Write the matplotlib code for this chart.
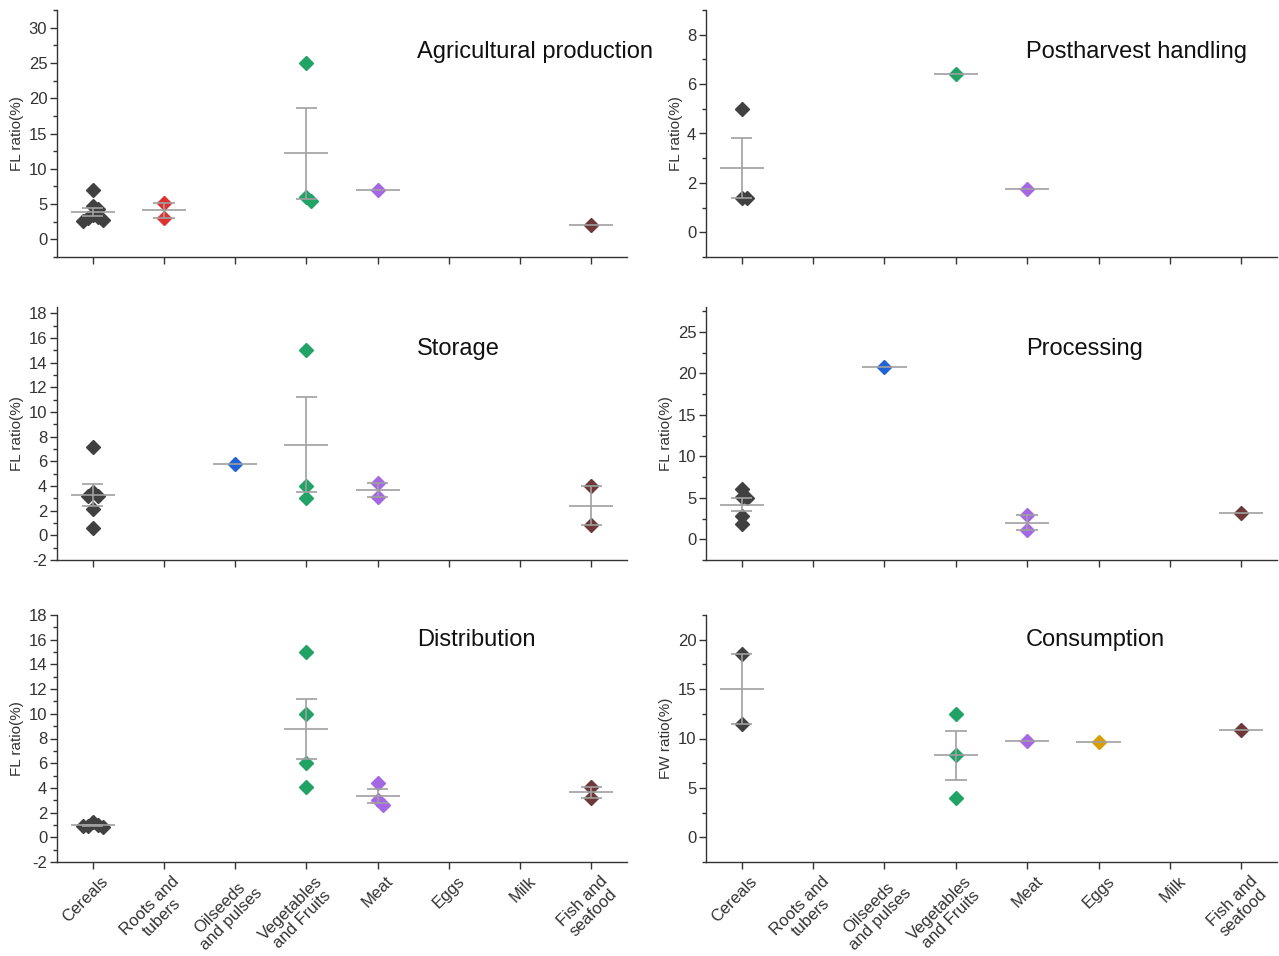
import numpy as np
import matplotlib
matplotlib.use("Agg")
import matplotlib.pyplot as plt
from matplotlib.ticker import MultipleLocator, AutoMinorLocator
import matplotlib.transforms as mtransforms

plt.rcParams['font.family'] = ['Liberation Sans', 'DejaVu Sans']
plt.rcParams['axes.unicode_minus'] = False

categories = ["Cereals", "Roots and\ntubers", "Oilseeds\nand pulses", "Vegetables\nand Fruits",
              "Meat", "Eggs", "Milk", "Fish and\nseafood"]
cat_colors = ["#404040", "#de3232", "#1f63d6", "#20a365", "#a468e4", "#d79f00", "#888888", "#6e3838"]

# values per category for each stage (empty = no data)
agri_values = [[7.0, 4.7, 4.3, 3.5, 3.2, 3.0, 2.8, 2.6], [5.2, 3.0], [], [25.0, 6.0, 5.5],
               [7.0], [], [], [2.0]]
post_values = [[5.0, 1.4, 1.4], [], [], [6.4], [1.75], [], [], []]
stor_values = [[7.15, 3.5, 3.2, 3.2, 2.1, 0.6], [], [5.8], [15.0, 4.0, 3.0], [4.2, 3.1],
               [], [], [4.0, 0.8]]
proc_values = [[6.1, 5.1, 5.0, 2.8, 1.8], [], [20.8], [], [2.9, 1.1], [], [], [3.2]]
dist_values = [[1.2, 1.0, 0.9, 0.8, 0.9], [], [], [15.0, 10.0, 6.0, 4.1], [4.4, 3.0, 2.6],
               [], [], [4.1, 3.2]]
cons_values = [[18.6, 11.5], [], [], [12.5, 8.35, 4.0], [9.7], [9.6], [], [10.85]]

stage_titles = ["Agricultural production", "Postharvest handling", "Storage", "Processing",
                "Distribution", "Consumption"]
stage_data = [agri_values, post_values, stor_values, proc_values, dist_values, cons_values]
y_labels = ["FL ratio(%)"] * 5 + ["FW ratio(%)"]
y_limits = [(-2.5, 32.5), (-1, 9), (-2, 18.5), (-2.5, 28), (-2, 18), (-2.5, 22.5)]
y_major = [5, 2, 2, 5, 2, 5]
y_top_tick = [30, 8, 18, 25, 18, 20]

col_x = [57, 706]
col_w = [570, 571]
row_top = [10, 307, 615]
row_bot = [257, 560, 862]
title_pos = [(0.632, 0.83), (0.56, 0.83), (0.632, 0.835), (0.56, 0.835), (0.632, 0.90), (0.56, 0.90)]

W, H = 1279, 956
fig = plt.figure(figsize=(W / 100, H / 100), dpi=100)


def swarm_offsets(vals, yspan, step=0.07):
    placed, offs = [], []
    for v in vals:
        x = 0.0
        for c in [0, 1, -1, 2, -2, 3, -3]:
            x = c * step
            if all(abs(x - px) > step * 0.9 or abs(v - pv) > yspan * 0.03 for px, pv in placed):
                break
        placed.append((x, v))
        offs.append(x)
    return offs


line_c = "#a0a0a0"
for i, (title, data) in enumerate(zip(stage_titles, stage_data)):
    r, c = divmod(i, 2)
    ax = fig.add_axes([col_x[c] / W, 1 - row_bot[r] / H, col_w[c] / W, (row_bot[r] - row_top[r]) / H])
    lo, hi = y_limits[i]
    span = hi - lo
    for k, vals in enumerate(data):
        if not vals:
            continue
        xpos = k + 1
        offs = swarm_offsets(vals, span)
        ax.plot([xpos + o for o in offs], vals, ls="none", marker="D", ms=7.5,
                color=cat_colors[k], mec=cat_colors[k], zorder=2)
        m = np.mean(vals)
        ax.hlines(m, xpos - 0.31, xpos + 0.31, color=line_c, lw=1.2, zorder=3)
        if len(vals) > 1:
            se = np.std(vals, ddof=1) / np.sqrt(len(vals))
            ax.vlines(xpos, m - se, m + se, color=line_c, lw=1.2, zorder=3)
            ax.hlines([m - se, m + se], xpos - 0.15, xpos + 0.15, color=line_c, lw=1.2, zorder=3)

    ax.set_xlim(0.5, 8.5)
    ax.set_ylim(lo, hi)
    ax.yaxis.set_major_locator(MultipleLocator(y_major[i]))
    ax.yaxis.set_minor_locator(AutoMinorLocator(2))
    yt = np.arange(np.ceil(lo / y_major[i]) * y_major[i], y_top_tick[i] + 0.01, y_major[i])
    ax.set_yticks(yt)
    ax.set_xticks(range(1, 9))
    for s in ["top", "right"]:
        ax.spines[s].set_visible(False)
    for s in ["left", "bottom"]:
        ax.spines[s].set_color("#333333")
        ax.spines[s].set_linewidth(1.0)
    ax.tick_params(axis="both", which="major", direction="out", length=5, width=1,
                   color="#333333", labelsize=12, labelcolor="#333333", pad=2)
    ax.tick_params(axis="y", which="minor", direction="out", length=3, width=1, color="#333333")
    ax.set_ylabel(y_labels[i], fontsize=11, color="#333333", labelpad=3)
    ax.text(title_pos[i][0], title_pos[i][1], title, transform=ax.transAxes, fontsize=17,
            color="#111111", va="center", ha="left")
    if r == 2:
        ax.set_xticklabels(categories, rotation=45, ha="right", va="top",
                           rotation_mode="anchor", multialignment="center", fontsize=12,
                           linespacing=1.1)
        shift = mtransforms.ScaledTranslation(8 / 100, -2 / 100, fig.dpi_scale_trans)
        for lab in ax.get_xticklabels():
            lab.set_transform(lab.get_transform() + shift)
    else:
        ax.set_xticklabels([])

fig.savefig("out.png", dpi=100)
